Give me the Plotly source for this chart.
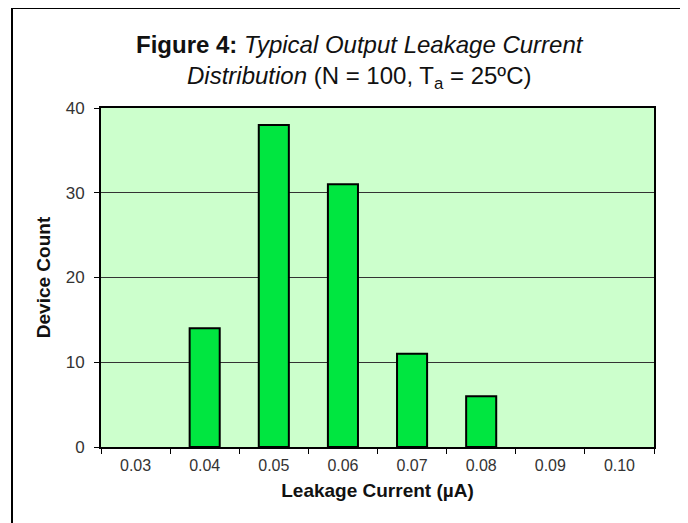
import plotly.graph_objects as go

current_labels = ["0.03", "0.04", "0.05", "0.06", "0.07", "0.08", "0.09", "0.10"]
device_count = [0, 14, 38, 31, 11, 6, 0, 0]
y_ticks = [0, 10, 20, 30, 40]

# the page puts the figure 8px in from the window edge, so size it to fit
OFF = 8
W, H = 688 - OFF, 523 - OFF
L, R, T, B = 101 - OFF, 34, 108 - OFF, 76
pw, ph = W - L - R, H - T - B


def px_x(x):
    # window pixel -> paper coordinate
    return (x - OFF - L) / pw


def px_y(y):
    return (H - B - (y - OFF)) / ph


fig = go.Figure(
    go.Bar(
        x=current_labels,
        y=device_count,
        marker=dict(
            color="#00E640",
            line=dict(color="black", width=[0 if v == 0 else 2 for v in device_count]),
        ),
        hoverinfo="x+y",
    )
)

fig.update_layout(
    width=W,
    height=H,
    margin=dict(l=L, r=R, t=T, b=B),
    paper_bgcolor="white",
    plot_bgcolor="#CCFFCC",
    bargap=0.565,
    showlegend=False,
    font=dict(family="Liberation Sans, Arial, sans-serif", color="#222"),
)

fig.update_xaxes(
    type="category",
    tickson="boundaries",
    ticks="outside",
    ticklen=5,
    tickcolor="black",
    showline=True,
    linecolor="black",
    linewidth=2,
    mirror=True,
    showgrid=False,
    tickfont=dict(size=16, color="#333"),
    ticklabelstandoff=3,
    title=dict(text="<b>Leakage Current (µA)</b>", font=dict(size=19, color="#111"), standoff=10),
)
fig.update_yaxes(
    range=[0, 40],
    tickvals=y_ticks,
    ticks="outside",
    ticklen=5,
    tickcolor="black",
    showline=True,
    linecolor="black",
    linewidth=2,
    mirror=True,
    gridcolor="#333",
    gridwidth=1,
    zeroline=False,
    tickfont=dict(size=17, color="#333"),
    ticklabelstandoff=6,
    title=dict(text="<b>Device Count</b>", font=dict(size=19, color="#111"), standoff=10),
)

# title as two centered lines
fig.add_annotation(
    text="<b>Figure 4:</b> <i>Typical Output Leakage Current</i><br><i>Distribution</i> (N = 100, T<sub>a</sub> = 25ºC)",
    xref="paper", yref="paper",
    x=px_x(360), y=px_y(62),
    xanchor="center", yanchor="middle",
    showarrow=False,
    align="center",
    font=dict(size=24, color="#111"),
)

# outer frame around the chart
fig.add_shape(type="line", xref="paper", yref="paper",
              x0=px_x(12), x1=px_x(12), y0=px_y(530), y1=px_y(8),
              line=dict(color="black", width=2))
fig.add_shape(type="line", xref="paper", yref="paper",
              x0=px_x(12), x1=px_x(683), y0=px_y(8), y1=px_y(8),
              line=dict(color="black", width=2))
fig.add_shape(type="line", xref="paper", yref="paper",
              x0=px_x(683), x1=px_x(683), y0=px_y(530), y1=px_y(8),
              line=dict(color="#999", width=1.5))

fig.write_html("out.html")
